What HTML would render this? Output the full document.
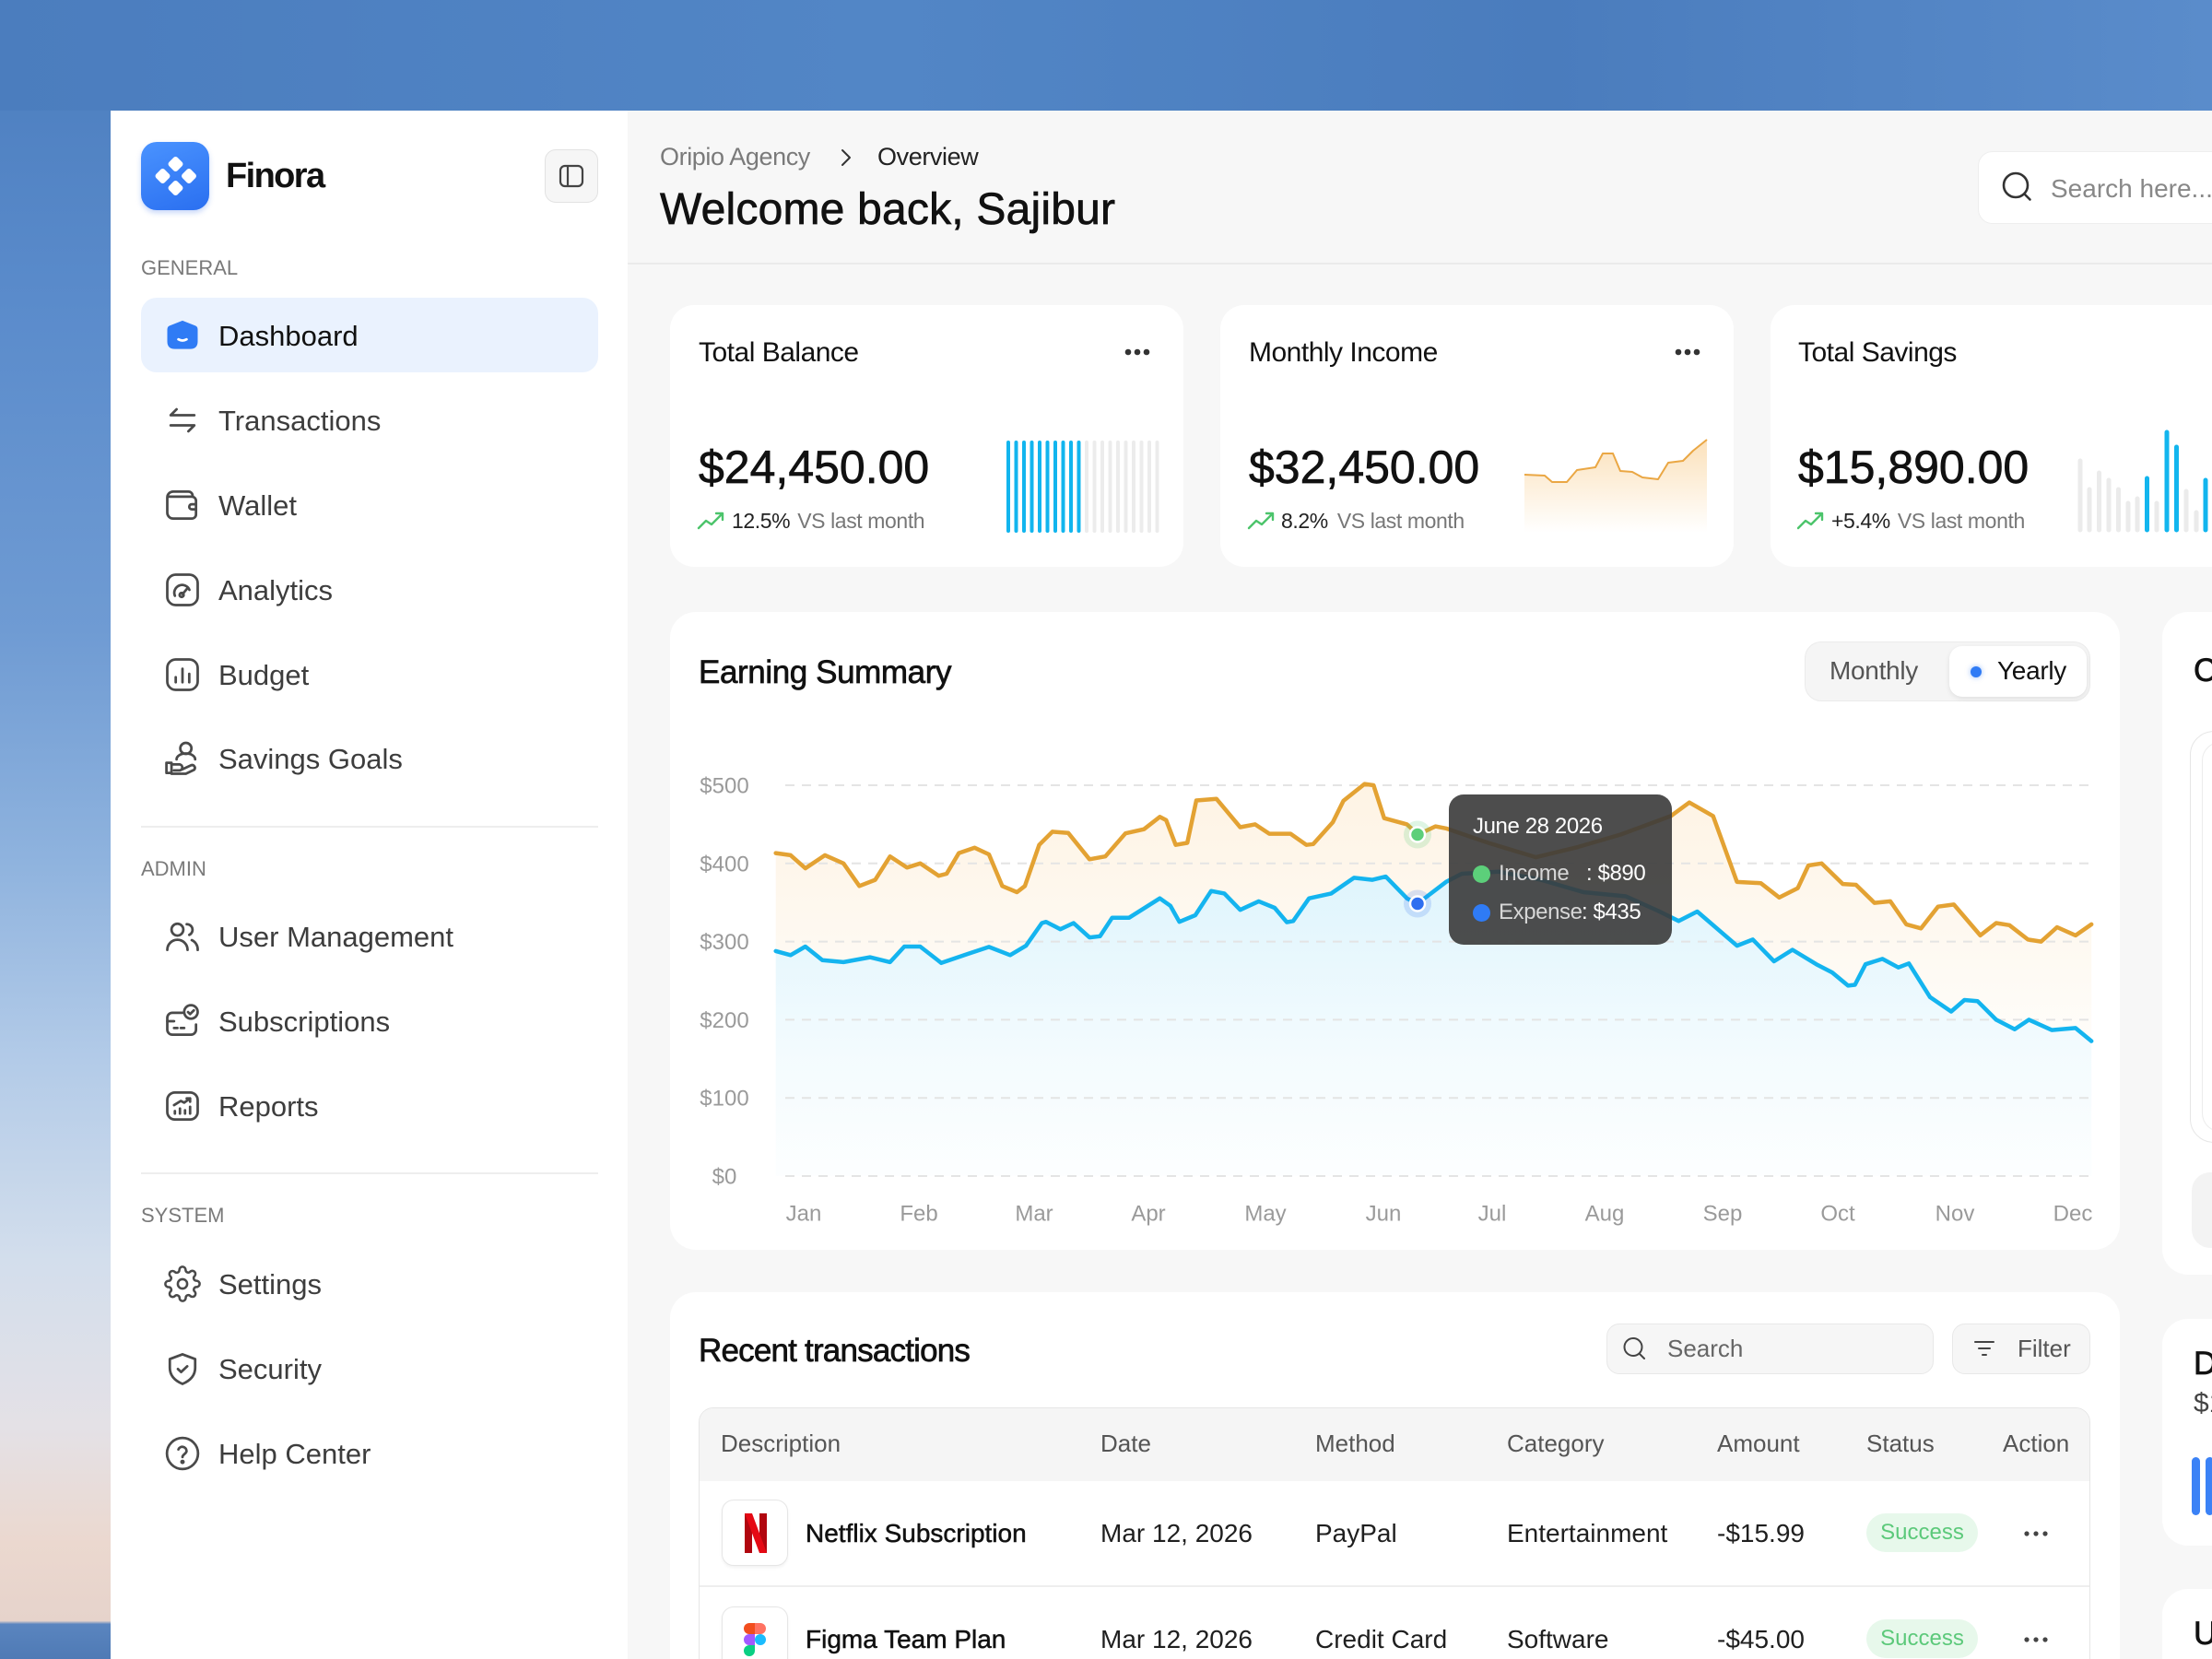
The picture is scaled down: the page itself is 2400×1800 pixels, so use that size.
<!DOCTYPE html>
<html><head><meta charset="utf-8">
<style>
*{box-sizing:border-box}
html,body{margin:0;padding:0;width:2400px;height:1800px;overflow:hidden}
body{font-family:"Liberation Sans",sans-serif}
#w{position:relative;width:2400px;height:1800px;overflow:hidden;
background:linear-gradient(180deg,#4a7cbd 0%,#5a8bcb 18%,#6f9bd3 38%,#8fb3de 52%,#b3cbe8 64%,#d3deec 76%,#e4e1e6 86%,#ebd8cf 93%,#e6d3cb 97.7%,#5a85bf 97.9%,#4f7ab5 100%);}
.a{position:absolute;white-space:nowrap;line-height:1}
.m{-webkit-text-stroke:0.7px currentColor}
.card{position:absolute;background:#fff;border-radius:26px}
.ic{position:absolute;width:44px;height:44px}
.nav{font-size:31px;color:#3d3d3d}
.sec{font-size:22px;color:#7a7a7a}
.th{font-size:26px;color:#555}
.td{font-size:28px;color:#1f1f1f}
</style></head><body><div id="w">
<div style="position:absolute;left:0;top:0;width:2400px;height:120px;background:linear-gradient(90deg,#4b7dbe,#5286c6 40%,#4a7cbd 70%,#5a8ccb)"></div>

<!-- panel -->
<div style="position:absolute;left:120px;top:120px;width:561px;height:1680px;background:#fff"></div>
<div style="position:absolute;left:681px;top:120px;width:1719px;height:1680px;background:#f7f7f7"></div>
<div style="position:absolute;left:681px;top:285px;width:1719px;height:2px;background:#ebebeb"></div>

<!-- sidebar -->
<div style="position:absolute;left:153px;top:154px;width:74px;height:74px;border-radius:17px;background:linear-gradient(160deg,#4a93ff,#2a6ff0);box-shadow:0 3px 6px rgba(40,100,230,.25)"></div>
<svg style="position:absolute;left:153px;top:154px" width="74" height="74">
<g fill="#fff">
<rect x="31" y="17.5" width="13" height="13" rx="3" transform="rotate(45 37.5 24)"/>
<rect x="17" y="30.5" width="13" height="13" rx="3" transform="rotate(45 23.5 37)"/>
<rect x="45.5" y="30.5" width="13" height="13" rx="3" transform="rotate(45 52 37)"/>
<rect x="31" y="43.5" width="13" height="13" rx="3" transform="rotate(45 37.5 50)"/>
</g></svg>
<div class="a" style="left:245px;top:172px;font-size:38px;font-weight:bold;color:#111;letter-spacing:-1.6px">Finora</div>
<div style="position:absolute;left:591px;top:162px;width:58px;height:58px;border-radius:12px;background:#f6f6f6;border:1.5px solid #e2e2e2"></div>
<svg style="position:absolute;left:591px;top:162px" width="58" height="58"><rect x="17" y="18" width="24" height="22" rx="5" fill="none" stroke="#444" stroke-width="2.2"/><line x1="25" y1="18" x2="25" y2="40" stroke="#444" stroke-width="2.2"/></svg>

<div class="a sec" style="left:153px;top:280px">GENERAL</div>
<div style="position:absolute;left:153px;top:323px;width:496px;height:81px;border-radius:17px;background:#eaf2fe"></div>
<svg class="ic" style="left:176px;top:342px" viewBox="0 0 24 24"><path d="M12 3.2L19.6 6.2Q21 6.8 21 8.4V15.5Q21 20 16.5 20H7.5Q3 20 3 15.5V8.4Q3 6.8 4.4 6.2Z" fill="#2f7bf5"/><path d="M9.6 14.3q2.4 1.4 4.8 0" stroke="#fff" stroke-width="1.5" fill="none" stroke-linecap="round"/></svg>
<div class="a nav" style="left:237px;top:348.5px;color:#111">Dashboard</div>

<svg class="ic" style="left:176px;top:434px" viewBox="0 0 24 24" fill="none" stroke="#4a4a4a" stroke-width="1.5" stroke-linecap="round" stroke-linejoin="round"><path d="M19 9H5l3.5-3.5M5 15h14l-3.5 3.5"/></svg>
<div class="a nav" style="left:237px;top:440.5px">Transactions</div>

<svg class="ic" style="left:176px;top:526px" viewBox="0 0 24 24" fill="none" stroke="#4a4a4a" stroke-width="1.5" stroke-linecap="round" stroke-linejoin="round"><path d="M18 7V6.5A2.5 2.5 0 0 0 15.5 4H6.5A3.5 3.5 0 0 0 3 7.5v9A3.5 3.5 0 0 0 6.5 20h11a2.5 2.5 0 0 0 2.5-2.5v-8A2.5 2.5 0 0 0 17.5 7H3.5"/><path d="M20 11.5h-2.5a1.5 1.5 0 0 0 0 3H20"/></svg>
<div class="a nav" style="left:237px;top:532.5px">Wallet</div>

<svg class="ic" style="left:176px;top:618px" viewBox="0 0 24 24" fill="none" stroke="#4a4a4a" stroke-width="1.5" stroke-linecap="round" stroke-linejoin="round"><rect x="3" y="3" width="18" height="18" rx="5"/><path d="M7.5 15.5a4.6 4.6 0 1 1 8.6-3.5"/><path d="M12 14.5l3-3.5"/><circle cx="11.5" cy="15" r="1.2"/></svg>
<div class="a nav" style="left:237px;top:624.5px">Analytics</div>

<svg class="ic" style="left:176px;top:710px" viewBox="0 0 24 24" fill="none" stroke="#4a4a4a" stroke-width="1.5" stroke-linecap="round" stroke-linejoin="round"><rect x="3" y="3" width="18" height="18" rx="5"/><path d="M8 16.5v-3M12 16.5v-8M16 16.5v-5"/></svg>
<div class="a nav" style="left:237px;top:716.5px">Budget</div>

<svg class="ic" style="left:176px;top:801px" viewBox="0 0 24 24" fill="none" stroke="#4a4a4a" stroke-width="1.5" stroke-linecap="round" stroke-linejoin="round"><circle cx="14" cy="6" r="3.3"/><path d="M8.5 12.5a5.5 3.5 0 0 1 11 0"/><path d="M2.5 14.5h3v6h-3z"/><path d="M5.5 15.5h5a1.8 1.8 0 0 1 0 3.5h-3.5M10.5 19l6.5-3a1.7 1.7 0 0 1 2 2.6L14 21H5.5"/></svg>
<div class="a nav" style="left:237px;top:807.5px">Savings Goals</div>

<div style="position:absolute;left:153px;top:896px;width:496px;height:2px;background:#eeeeee"></div>
<div class="a sec" style="left:153px;top:932px">ADMIN</div>

<svg class="ic" style="left:176px;top:994px" viewBox="0 0 24 24" fill="none" stroke="#4a4a4a" stroke-width="1.5" stroke-linecap="round" stroke-linejoin="round"><circle cx="9" cy="8" r="3.5"/><path d="M3 20a6 6 0 0 1 12 0"/><path d="M14.5 4.8a3.3 3.3 0 0 1 1.5 6.3"/><path d="M17.5 14.2a6 6 0 0 1 3.5 5.8"/></svg>
<div class="a nav" style="left:237px;top:1000.5px">User Management</div>

<svg class="ic" style="left:176px;top:1086px" viewBox="0 0 24 24" fill="none" stroke="#4a4a4a" stroke-width="1.5" stroke-linecap="round" stroke-linejoin="round"><path d="M12 7H6a3 3 0 0 0-3 3v7a3 3 0 0 0 3 3h11a3 3 0 0 0 3-3v-3"/><path d="M3 12h4"/><path d="M7 16h2M11 16h2"/><circle cx="17" cy="6.5" r="4"/><path d="M15.3 6.6l1.2 1.2 2.2-2.2"/></svg>
<div class="a nav" style="left:237px;top:1092.5px">Subscriptions</div>

<svg class="ic" style="left:176px;top:1178px" viewBox="0 0 24 24" fill="none" stroke="#4a4a4a" stroke-width="1.5" stroke-linecap="round" stroke-linejoin="round"><rect x="3" y="4" width="18" height="16" rx="4.5"/><path d="M7.5 16.5v-1.5M10.5 16.5v-3M13.5 16.5v-2M16.5 16.5v-4"/><path d="M7 11.5l4-2.5 2 1 3.5-2.5M14.5 7.5h2v2"/></svg>
<div class="a nav" style="left:237px;top:1184.5px">Reports</div>

<div style="position:absolute;left:153px;top:1272px;width:496px;height:2px;background:#eeeeee"></div>
<div class="a sec" style="left:153px;top:1308px">SYSTEM</div>

<svg class="ic" style="left:176px;top:1371px" viewBox="-1 -1 26 26" fill="none" stroke="#4a4a4a" stroke-width="1.5" stroke-linecap="round" stroke-linejoin="round"><circle cx="12" cy="12" r="3"/><path d="M19.4 15a1.65 1.65 0 0 0 .33 1.82l.06.06a2 2 0 0 1 0 2.83 2 2 0 0 1-2.83 0l-.06-.06a1.65 1.65 0 0 0-1.82-.33 1.65 1.65 0 0 0-1 1.51V21a2 2 0 0 1-2 2 2 2 0 0 1-2-2v-.09A1.65 1.65 0 0 0 9 19.4a1.65 1.65 0 0 0-1.82.33l-.06.06a2 2 0 0 1-2.83 0 2 2 0 0 1 0-2.830l.06-.06a1.65 1.65 0 0 0 .33-1.82 1.65 1.65 0 0 0-1.51-1H3a2 2 0 0 1-2-2 2 2 0 0 1 2-2h.09A1.65 1.65 0 0 0 4.6 9a1.65 1.65 0 0 0-.33-1.82l-.06-.06a2 2 0 0 1 0-2.83 2 2 0 0 1 2.83 0l.06.06a1.65 1.65 0 0 0 1.82.33H9a1.65 1.65 0 0 0 1-1.51V3a2 2 0 0 1 2-2 2 2 0 0 1 2 2v.09a1.65 1.65 0 0 0 1 1.51 1.65 1.65 0 0 0 1.82-.33l.06-.06a2 2 0 0 1 2.83 0 2 2 0 0 1 0 2.83l-.06.06a1.65 1.65 0 0 0-.33 1.82V9a1.65 1.65 0 0 0 1.51 1H21a2 2 0 0 1 2 2 2 2 0 0 1-2 2h-.09a1.65 1.65 0 0 0-1.51 1z"/></svg>
<div class="a nav" style="left:237px;top:1377.5px">Settings</div>

<svg class="ic" style="left:176px;top:1463px" viewBox="0 0 24 24" fill="none" stroke="#4a4a4a" stroke-width="1.5" stroke-linecap="round" stroke-linejoin="round"><path d="M12 3.5l7.5 2.8v5.2c0 4.8-3.5 7.8-7.5 9.5-4-1.7-7.5-4.7-7.5-9.5V6.3z"/><path d="M9.3 12.2l1.9 1.8 3.6-3.4"/></svg>
<div class="a nav" style="left:237px;top:1469.5px">Security</div>

<svg class="ic" style="left:176px;top:1555px" viewBox="0 0 24 24" fill="none" stroke="#4a4a4a" stroke-width="1.5" stroke-linecap="round" stroke-linejoin="round"><circle cx="12" cy="12" r="9.2"/><path d="M9.6 9.6a2.5 2.5 0 0 1 4.8.9c0 1.7-2.4 2-2.4 3.6"/><circle cx="12" cy="17" r=".6" fill="#4a4a4a"/></svg>
<div class="a nav" style="left:237px;top:1561.5px">Help Center</div>

<!-- header -->
<div class="a" style="left:716px;top:156.5px;font-size:27px;color:#7a7a7a;letter-spacing:-0.4px">Oripio Agency</div>
<svg style="position:absolute;left:908px;top:160px" width="20" height="22"><path d="M6 3l8 8-8 8" fill="none" stroke="#333" stroke-width="2" stroke-linecap="round" stroke-linejoin="round"/></svg>
<div class="a" style="left:952px;top:156.5px;font-size:27px;color:#222;letter-spacing:-0.4px">Overview</div>
<div class="a m" style="left:716px;top:204px;font-size:48px;color:#111;letter-spacing:0.2px">Welcome back, Sajibur</div>
<div style="position:absolute;left:2146px;top:164px;width:300px;height:79px;border-radius:16px;background:#fff;border:1.5px solid #eeeeee"></div>
<svg style="position:absolute;left:2168px;top:182px" width="44" height="44"><circle cx="19" cy="19" r="13" fill="none" stroke="#333" stroke-width="2.6"/><path d="M28.5 28.5l6 6" stroke="#333" stroke-width="2.6" stroke-linecap="round"/></svg>
<div class="a" style="left:2225px;top:191px;font-size:28px;color:#888">Search here...</div>

<!-- stat cards -->
<div class="card" style="left:727px;top:331px;width:557px;height:284px"></div>
<div class="card" style="left:1324px;top:331px;width:557px;height:284px"></div>
<div class="card" style="left:1921px;top:331px;width:557px;height:284px"></div>

<div class="a" style="left:758px;top:368px;font-size:30px;color:#111;letter-spacing:-0.5px">Total Balance</div>
<div class="a" style="left:1355px;top:368px;font-size:30px;color:#111;letter-spacing:-0.5px">Monthly Income</div>
<div class="a" style="left:1951px;top:368px;font-size:30px;color:#111;letter-spacing:-0.5px">Total Savings</div>

<div class="a m" style="left:758px;top:482px;font-size:50px;color:#111">$24,450.00</div>
<div class="a m" style="left:1355px;top:482px;font-size:50px;color:#111">$32,450.00</div>
<div class="a m" style="left:1951px;top:482px;font-size:50px;color:#111">$15,890.00</div>

<div class="a" style="left:794px;top:553.5px;font-size:23px;letter-spacing:-0.4px"><span style="color:#222">12.5%</span><span style="color:#777;margin-left:8px">VS last month</span></div>
<div class="a" style="left:1390px;top:553.5px;font-size:23px;letter-spacing:-0.4px"><span style="color:#222">8.2%</span><span style="color:#777;margin-left:10px">VS last month</span></div>
<div class="a" style="left:1987px;top:553.5px;font-size:23px;letter-spacing:-0.4px"><span style="color:#222">+5.4%</span><span style="color:#777;margin-left:8px">VS last month</span></div>

<!-- earning card -->
<div class="card" style="left:727px;top:664px;width:1573px;height:692px;border-radius:28px"></div>
<div class="a m" style="left:758px;top:711.5px;font-size:35px;color:#111;letter-spacing:-0.4px">Earning Summary</div>
<div style="position:absolute;left:1958px;top:696px;width:310px;height:65px;border-radius:18px;background:#f5f5f5;border:1.5px solid #ebebeb"></div>
<div style="position:absolute;left:2115px;top:701px;width:149px;height:55px;border-radius:14px;background:#fff;box-shadow:0 2px 6px rgba(0,0,0,.09)"></div>
<div class="a" style="left:1985px;top:714px;font-size:28px;color:#555;letter-spacing:-0.3px">Monthly</div>
<div style="position:absolute;left:2138px;top:723px;width:12px;height:12px;border-radius:50%;background:#2f7bf5;box-shadow:0 0 6px rgba(47,123,245,.5)"></div>
<div class="a" style="left:2167px;top:714px;font-size:28px;color:#111;letter-spacing:-0.3px">Yearly</div>

<!-- transactions card -->
<div class="card" style="left:727px;top:1402px;width:1573px;height:460px;border-radius:28px"></div>
<div class="a m" style="left:758px;top:1447.5px;font-size:35px;color:#111;letter-spacing:-0.8px">Recent transactions</div>
<div style="position:absolute;left:1743px;top:1436px;width:355px;height:55px;border-radius:14px;background:#f6f6f6;border:1.5px solid #e8e8e8"></div>
<svg style="position:absolute;left:1758px;top:1448px" width="32" height="32"><circle cx="14" cy="13.5" r="9.5" fill="none" stroke="#444" stroke-width="2"/><path d="M21 21l5 5" stroke="#444" stroke-width="2" stroke-linecap="round"/></svg>
<div class="a" style="left:1809px;top:1450px;font-size:26px;color:#666">Search</div>
<div style="position:absolute;left:2118px;top:1436px;width:150px;height:55px;border-radius:14px;background:#f6f6f6;border:1.5px solid #e8e8e8"></div>
<svg style="position:absolute;left:2140px;top:1451px" width="28" height="26"><path d="M3 5h20M7 12h12M11 19h4" stroke="#444" stroke-width="2" stroke-linecap="round"/></svg>
<div class="a" style="left:2189px;top:1450px;font-size:26px;color:#555">Filter</div>

<div style="position:absolute;left:758px;top:1527px;width:1510px;height:330px;border-radius:16px;border:1.5px solid #e6e6e6;background:#fff;overflow:hidden">
  <div style="position:absolute;left:0;top:0;width:100%;height:79px;background:#f5f5f5"></div>
  <div style="position:absolute;left:0;top:192px;width:100%;height:2px;background:#eeeeee"></div>
</div>
<div class="a th" style="left:782px;top:1553px">Description</div>
<div class="a th" style="left:1194px;top:1553px">Date</div>
<div class="a th" style="left:1427px;top:1553px">Method</div>
<div class="a th" style="left:1635px;top:1553px">Category</div>
<div class="a th" style="left:1863px;top:1553px">Amount</div>
<div class="a th" style="left:2025px;top:1553px">Status</div>
<div class="a th" style="left:2173px;top:1553px">Action</div>

<div style="position:absolute;left:783px;top:1627px;width:72px;height:72px;border-radius:13px;border:1.5px solid #e6e6e6;background:#fff;box-shadow:0 2px 3px rgba(0,0,0,.05)"></div>
<svg style="position:absolute;left:783px;top:1627px" width="72" height="72"><path d="M25 15h8v43h-8z" fill="#b1060f"/><path d="M41 15h8v43h-8z" fill="#b1060f"/><path d="M25 15h8l16 43h-8z" fill="#e50914"/></svg>
<div class="a td" style="left:874px;top:1650px;color:#111;-webkit-text-stroke:0.5px #111">Netflix Subscription</div>
<div class="a td" style="left:1194px;top:1650px">Mar 12, 2026</div>
<div class="a td" style="left:1427px;top:1650px">PayPal</div>
<div class="a td" style="left:1635px;top:1650px">Entertainment</div>
<div class="a td" style="left:1863px;top:1650px">-$15.99</div>
<div style="position:absolute;left:2025px;top:1642px;width:121px;height:42px;border-radius:21px;background:#e7f8eb"></div>
<div class="a" style="left:2025px;top:1651px;width:121px;text-align:center;font-size:24px;color:#5cc97a">Success</div>
<svg style="position:absolute;left:2194px;top:1657px" width="30" height="14"><circle cx="5" cy="7" r="2.6" fill="#444"/><circle cx="15" cy="7" r="2.6" fill="#444"/><circle cx="25" cy="7" r="2.6" fill="#444"/></svg>

<div style="position:absolute;left:783px;top:1743px;width:72px;height:72px;border-radius:13px;border:1.5px solid #e6e6e6;background:#fff;box-shadow:0 2px 3px rgba(0,0,0,.05)"></div>
<svg style="position:absolute;left:783px;top:1743px" width="72" height="72"><path d="M30 18h6v12h-6a6 6 0 0 1 0-12z" fill="#f24e1e"/><path d="M36 18h6a6 6 0 0 1 0 12h-6z" fill="#ff7262"/><path d="M30 30h6v12h-6a6 6 0 0 1 0-12z" fill="#a259ff"/><circle cx="42" cy="36" r="6" fill="#1abcfe"/><path d="M30 42h6v6a6 6 0 1 1-6-6z" fill="#0acf83"/></svg>
<div class="a td" style="left:874px;top:1765px;color:#111;-webkit-text-stroke:0.5px #111">Figma Team Plan</div>
<div class="a td" style="left:1194px;top:1765px">Mar 12, 2026</div>
<div class="a td" style="left:1427px;top:1765px">Credit Card</div>
<div class="a td" style="left:1635px;top:1765px">Software</div>
<div class="a td" style="left:1863px;top:1765px">-$45.00</div>
<div style="position:absolute;left:2025px;top:1757px;width:121px;height:42px;border-radius:21px;background:#e7f8eb"></div>
<div class="a" style="left:2025px;top:1766px;width:121px;text-align:center;font-size:24px;color:#5cc97a">Success</div>
<svg style="position:absolute;left:2194px;top:1772px" width="30" height="14"><circle cx="5" cy="7" r="2.6" fill="#444"/><circle cx="15" cy="7" r="2.6" fill="#444"/><circle cx="25" cy="7" r="2.6" fill="#444"/></svg>

<!-- right column -->
<div class="card" style="left:2346px;top:664px;width:200px;height:719px;border-radius:28px"></div>
<div class="a m" style="left:2380px;top:709.5px;font-size:35px;color:#111">C</div>
<div style="position:absolute;left:2376px;top:793px;width:120px;height:447px;border-radius:26px;border:1.5px solid #e6e6e6"></div>
<div style="position:absolute;left:2389px;top:805px;width:100px;height:423px;border-radius:20px;border:1.5px solid #ececec;border-right:none"></div>
<div style="position:absolute;left:2378px;top:1272px;width:60px;height:82px;border-radius:20px;background:#f3f3f3"></div>
<div class="card" style="left:2346px;top:1431px;width:200px;height:246px;border-radius:28px"></div>
<div class="a m" style="left:2380px;top:1461.5px;font-size:35px;color:#111">D</div>
<div class="a" style="left:2380px;top:1508px;font-size:30px;color:#444">$1</div>
<div style="position:absolute;left:2378px;top:1581px;width:9px;height:63px;border-radius:5px;background:#3b82f6"></div>
<div style="position:absolute;left:2393px;top:1581px;width:9px;height:63px;border-radius:5px;background:#3b82f6"></div>
<div class="card" style="left:2346px;top:1724px;width:200px;height:120px;border-radius:28px"></div>
<div class="a m" style="left:2380px;top:1754.5px;font-size:35px;color:#111">U</div>

<!-- graphics overlay -->
<svg style="position:absolute;left:0;top:0" width="2400" height="1800">
<defs>
<linearGradient id="of" x1="0" y1="850" x2="0" y2="1130" gradientUnits="userSpaceOnUse"><stop offset="0" stop-color="#f5b04a" stop-opacity=".15"/><stop offset="1" stop-color="#f5b04a" stop-opacity=".03"/></linearGradient>
<linearGradient id="bf" x1="0" y1="950" x2="0" y2="1276" gradientUnits="userSpaceOnUse"><stop offset="0" stop-color="#18b4ec" stop-opacity=".14"/><stop offset=".6" stop-color="#18b4ec" stop-opacity=".05"/><stop offset="1" stop-color="#18b4ec" stop-opacity=".01"/></linearGradient>
<linearGradient id="mf" x1="0" y1="476" x2="0" y2="578" gradientUnits="userSpaceOnUse"><stop offset="0" stop-color="#f5b04a" stop-opacity=".38"/><stop offset="1" stop-color="#f5b04a" stop-opacity="0"/></linearGradient>
</defs>

<!-- card dots -->
<g fill="#333"><circle cx="1224" cy="382" r="3.3"/><circle cx="1234" cy="382" r="3.3"/><circle cx="1244" cy="382" r="3.3"/>
<circle cx="1821" cy="382" r="3.3"/><circle cx="1831" cy="382" r="3.3"/><circle cx="1841" cy="382" r="3.3"/></g>
<!-- trend arrows -->
<g fill="none" stroke="#4cc46b" stroke-width="2.4" stroke-linecap="round" stroke-linejoin="round">
<path d="M758 573l8-8 6 4 12-12M777 557h7v7"/>
<path d="M1355 573l8-8 6 4 12-12M1374 557h7v7"/>
<path d="M1951 573l8-8 6 4 12-12M1970 557h7v7"/>
</g>
<!-- card1 bars -->
<g stroke-width="4" stroke-linecap="round">
<g stroke="#12b5ee">
<line x1="1094" y1="480" x2="1094" y2="576"/><line x1="1102.5" y1="480" x2="1102.5" y2="576"/><line x1="1111" y1="480" x2="1111" y2="576"/><line x1="1119.5" y1="480" x2="1119.5" y2="576"/><line x1="1128" y1="480" x2="1128" y2="576"/><line x1="1136.5" y1="480" x2="1136.5" y2="576"/><line x1="1145" y1="480" x2="1145" y2="576"/><line x1="1153.5" y1="480" x2="1153.5" y2="576"/><line x1="1162" y1="480" x2="1162" y2="576"/><line x1="1170.5" y1="480" x2="1170.5" y2="576"/>
</g>
<g stroke="#ececec">
<line x1="1179" y1="480" x2="1179" y2="576"/><line x1="1187.5" y1="480" x2="1187.5" y2="576"/><line x1="1196" y1="480" x2="1196" y2="576"/><line x1="1204.5" y1="480" x2="1204.5" y2="576"/><line x1="1213" y1="480" x2="1213" y2="576"/><line x1="1221.5" y1="480" x2="1221.5" y2="576"/><line x1="1230" y1="480" x2="1230" y2="576"/><line x1="1238.5" y1="480" x2="1238.5" y2="576"/><line x1="1247" y1="480" x2="1247" y2="576"/><line x1="1255.5" y1="480" x2="1255.5" y2="576"/>
</g></g>
<!-- card2 area -->
<path d="M1654 515L1676 516L1684 523L1700 523L1711 510L1731 507L1739 492L1750 492L1758 511L1771 512L1782 518L1799 520L1810 502L1826 500L1837 489L1852 477L1852 578L1654 578Z" fill="url(#mf)"/>
<polyline points="1654,515 1676,516 1684,523 1700,523 1711,510 1731,507 1739,492 1750,492 1758,511 1771,512 1782,518 1799,520 1810,502 1826,500 1837,489 1852,477" fill="none" stroke="#eaa744" stroke-width="2" stroke-linejoin="round"/>
<!-- card3 bars -->
<g stroke-width="5" stroke-linecap="round">
<line x1="2257" y1="500" x2="2257" y2="575" stroke="#ebebeb"/>
<line x1="2267" y1="531" x2="2267" y2="575" stroke="#ebebeb"/>
<line x1="2277.5" y1="513" x2="2277.5" y2="575" stroke="#ebebeb"/>
<line x1="2288" y1="521" x2="2288" y2="575" stroke="#ebebeb"/>
<line x1="2298.5" y1="531" x2="2298.5" y2="575" stroke="#ebebeb"/>
<line x1="2309" y1="546" x2="2309" y2="575" stroke="#ebebeb"/>
<line x1="2319" y1="541" x2="2319" y2="575" stroke="#ebebeb"/>
<line x1="2329.5" y1="519" x2="2329.5" y2="575" stroke="#12b5ee"/>
<line x1="2340" y1="546" x2="2340" y2="575" stroke="#ebebeb"/>
<line x1="2351" y1="469" x2="2351" y2="575" stroke="#12b5ee"/>
<line x1="2361.5" y1="485" x2="2361.5" y2="575" stroke="#12b5ee"/>
<line x1="2372" y1="533" x2="2372" y2="575" stroke="#ebebeb"/>
<line x1="2383" y1="556" x2="2383" y2="575" stroke="#ebebeb"/>
<line x1="2393" y1="521" x2="2393" y2="575" stroke="#12b5ee"/>
</g>

<!-- main chart fills -->
<path d="M841.7,925.6 857.8,927.9 873.8,942.1 895.1,927.9 915.2,936.8 932.4,961.3 949.6,954.6 965.7,929.2 984,941.3 998.4,936.8 1018.5,950.2 1027.1,948 1040.3,925.6 1057.5,919.8 1073,927 1087.4,961.3 1103.4,968 1112,961.3 1127.5,916.7 1141.9,902.4 1159.1,903.8 1182.1,932.3 1199.3,929.2 1221.1,904.2 1241.2,899.7 1258.4,886.3 1265.3,889.9 1275.6,916.7 1288.2,914.5 1298,868.5 1319.8,866.7 1345.6,897.5 1361.7,894.4 1377.2,904.6 1400.2,904.6 1417.4,916.7 1424.9,915.8 1446.1,892.1 1457.6,868.9 1480.5,850.6 1490.3,852 1501.8,887.7 1526.5,894.4 1538.5,905.5 1557.4,896.6 1568.9,898.8 1614.8,914.5 1666.5,930.1 1712.4,918.9 1758.3,905.5 1812.8,885.4 1832.9,870.7 1858.7,885.4 1884.6,956.9 1910.4,958.2 1930.5,973.8 1950.6,963.6 1962.1,939 1976.4,936.8 1999.4,959.1 2013.7,960 2033.8,979.6 2051,977.9 2068.3,1002.9 2084.3,1007.3 2102.7,983.7 2119.9,981.4 2148.6,1014.9 2165.8,1001.5 2180.2,1003.8 2200.3,1019.4 2214.6,1021.6 2231.9,1006 2252,1014.9 2269.2,1002.9 2269.2,1129.6 2251.9,1115.4 2226.1,1117.6 2201.4,1106.4 2185.9,1116.7 2165.8,1106.4 2145.7,1086.3 2131.4,1085 2117,1097.5 2094.1,1081.9 2071.1,1045.3 2059.7,1049.7 2042.4,1040.4 2024.1,1046.2 2012.6,1068.5 2005.1,1069.4 1987.9,1055.1 1970.7,1046.2 1944.8,1030.5 1924.8,1043 1901.8,1019.4 1884.6,1026.1 1841.5,989 1821.4,999.3 1798.5,988 1764,972.5 1718,968 1672,954.6 1626,945.7 1586,948 1568.9,956.9 1538,980.5 1526.5,974.7 1503.5,951.1 1489.1,954.6 1469.1,952.4 1444.4,969.4 1420.3,974.7 1403.1,999.3 1396.2,1000.6 1383,985 1365.7,977.9 1345.6,987.2 1328.4,969.4 1314.1,966.7 1296.9,993 1279.6,1000.2 1269.9,982.8 1258.4,974.7 1225.1,995.7 1206.7,995.7 1193.5,1015.8 1182.1,1017.1 1164.8,1001.5 1150.5,1008.2 1135,1000.2 1130.4,1001.5 1113.2,1026.1 1096,1036.3 1073,1027.4 1050,1035 1021.3,1044.8 998.4,1027 981.2,1027 965.7,1043.9 943.9,1038.6 915.2,1043.9 892.2,1041.7 873.8,1027 857.8,1036.3 841.7,1031.9Z" fill="url(#of)"/>
<path d="M841.7,1031.9 857.8,1036.3 873.8,1027 892.2,1041.7 915.2,1043.9 943.9,1038.6 965.7,1043.9 981.2,1027 998.4,1027 1021.3,1044.8 1050,1035 1073,1027.4 1096,1036.3 1113.2,1026.1 1130.4,1001.5 1135,1000.2 1150.5,1008.2 1164.8,1001.5 1182.1,1017.1 1193.5,1015.8 1206.7,995.7 1225.1,995.7 1258.4,974.7 1269.9,982.8 1279.6,1000.2 1296.9,993 1314.1,966.7 1328.4,969.4 1345.6,987.2 1365.7,977.9 1383,985 1396.2,1000.6 1403.1,999.3 1420.3,974.7 1444.4,969.4 1469.1,952.4 1489.1,954.6 1503.5,951.1 1526.5,974.7 1538,980.5 1568.9,956.9 1586,948 1626,945.7 1672,954.6 1718,968 1764,972.5 1798.5,988 1821.4,999.3 1841.5,989 1884.6,1026.1 1901.8,1019.4 1924.8,1043 1944.8,1030.5 1970.7,1046.2 1987.9,1055.1 2005.1,1069.4 2012.6,1068.5 2024.1,1046.2 2042.4,1040.4 2059.7,1049.7 2071.1,1045.3 2094.1,1081.9 2117,1097.5 2131.4,1085 2145.7,1086.3 2165.8,1106.4 2185.9,1116.7 2201.4,1106.4 2226.1,1117.6 2251.9,1115.4 2269.2,1129.6 2269.2,1276 841.7,1276Z" fill="url(#bf)"/>

<!-- grid -->
<g stroke="#e4e4e4" stroke-width="2" stroke-dasharray="10 8">
<line x1="852" y1="852" x2="2269" y2="852"/>
<line x1="852" y1="936.8" x2="2269" y2="936.8"/>
<line x1="852" y1="1021.6" x2="2269" y2="1021.6"/>
<line x1="852" y1="1106.4" x2="2269" y2="1106.4"/>
<line x1="852" y1="1191.2" x2="2269" y2="1191.2"/>
<line x1="852" y1="1276" x2="2269" y2="1276"/>
</g>
<g font-family="Liberation Sans, sans-serif" font-size="24" fill="#9a9a9a" text-anchor="middle">
<text x="786" y="860.5">$500</text><text x="786" y="945.3">$400</text><text x="786" y="1030.1">$300</text><text x="786" y="1114.9">$200</text><text x="786" y="1199.7">$100</text><text x="786" y="1284.5">$0</text>
<text x="872" y="1324.5">Jan</text><text x="997" y="1324.5">Feb</text><text x="1122" y="1324.5">Mar</text><text x="1246" y="1324.5">Apr</text><text x="1373" y="1324.5">May</text><text x="1501" y="1324.5">Jun</text><text x="1619" y="1324.5">Jul</text><text x="1741" y="1324.5">Aug</text><text x="1869" y="1324.5">Sep</text><text x="1994" y="1324.5">Oct</text><text x="2121" y="1324.5">Nov</text><text x="2249" y="1324.5">Dec</text>
</g>

<!-- lines -->
<polyline fill="none" stroke="#e3a233" stroke-width="4.5" stroke-linejoin="round" stroke-linecap="round" points="841.7,925.6 857.8,927.9 873.8,942.1 895.1,927.9 915.2,936.8 932.4,961.3 949.6,954.6 965.7,929.2 984,941.3 998.4,936.8 1018.5,950.2 1027.1,948 1040.3,925.6 1057.5,919.8 1073,927 1087.4,961.3 1103.4,968 1112,961.3 1127.5,916.7 1141.9,902.4 1159.1,903.8 1182.1,932.3 1199.3,929.2 1221.1,904.2 1241.2,899.7 1258.4,886.3 1265.3,889.9 1275.6,916.7 1288.2,914.5 1298,868.5 1319.8,866.7 1345.6,897.5 1361.7,894.4 1377.2,904.6 1400.2,904.6 1417.4,916.7 1424.9,915.8 1446.1,892.1 1457.6,868.9 1480.5,850.6 1490.3,852 1501.8,887.7 1526.5,894.4 1538.5,905.5 1557.4,896.6 1568.9,898.8 1614.8,914.5 1666.5,930.1 1712.4,918.9 1758.3,905.5 1812.8,885.4 1832.9,870.7 1858.7,885.4 1884.6,956.9 1910.4,958.2 1930.5,973.8 1950.6,963.6 1962.1,939 1976.4,936.8 1999.4,959.1 2013.7,960 2033.8,979.6 2051,977.9 2068.3,1002.9 2084.3,1007.3 2102.7,983.7 2119.9,981.4 2148.6,1014.9 2165.8,1001.5 2180.2,1003.8 2200.3,1019.4 2214.6,1021.6 2231.9,1006 2252,1014.9 2269.2,1002.9"/>
<polyline fill="none" stroke="#14b4ef" stroke-width="4.5" stroke-linejoin="round" stroke-linecap="round" points="841.7,1031.9 857.8,1036.3 873.8,1027 892.2,1041.7 915.2,1043.9 943.9,1038.6 965.7,1043.9 981.2,1027 998.4,1027 1021.3,1044.8 1050,1035 1073,1027.4 1096,1036.3 1113.2,1026.1 1130.4,1001.5 1135,1000.2 1150.5,1008.2 1164.8,1001.5 1182.1,1017.1 1193.5,1015.8 1206.7,995.7 1225.1,995.7 1258.4,974.7 1269.9,982.8 1279.6,1000.2 1296.9,993 1314.1,966.7 1328.4,969.4 1345.6,987.2 1365.7,977.9 1383,985 1396.2,1000.6 1403.1,999.3 1420.3,974.7 1444.4,969.4 1469.1,952.4 1489.1,954.6 1503.5,951.1 1526.5,974.7 1538,980.5 1568.9,956.9 1586,948 1626,945.7 1672,954.6 1718,968 1764,972.5 1798.5,988 1821.4,999.3 1841.5,989 1884.6,1026.1 1901.8,1019.4 1924.8,1043 1944.8,1030.5 1970.7,1046.2 1987.9,1055.1 2005.1,1069.4 2012.6,1068.5 2024.1,1046.2 2042.4,1040.4 2059.7,1049.7 2071.1,1045.3 2094.1,1081.9 2117,1097.5 2131.4,1085 2145.7,1086.3 2165.8,1106.4 2185.9,1116.7 2201.4,1106.4 2226.1,1117.6 2251.9,1115.4 2269.2,1129.6"/>
<!-- markers -->
<circle cx="1538" cy="905.5" r="15" fill="#5ccf7a" fill-opacity=".2"/>
<circle cx="1538" cy="905.5" r="8" fill="#5ccf7a" stroke="#fff" stroke-width="2.5"/>
<circle cx="1538" cy="980.5" r="15" fill="#2f6ff0" fill-opacity=".18"/>
<circle cx="1538" cy="980.5" r="8" fill="#2f6ff0" stroke="#fff" stroke-width="2.5"/>
</svg>

<!-- tooltip -->
<div style="position:absolute;left:1572px;top:862px;width:242px;height:163px;border-radius:16px;background:rgba(58,58,58,.9)"></div>
<div class="a" style="left:1598px;top:885px;font-size:24px;color:#fff;letter-spacing:-0.4px">June 28 2026</div>
<div style="position:absolute;left:1598px;top:939px;width:19px;height:19px;border-radius:50%;background:#5ccf7a"></div>
<div class="a" style="left:1626px;top:936px;font-size:24px;color:#d6d6d6;letter-spacing:-0.4px">Income</div>
<div class="a" style="left:1721px;top:936px;font-size:24px;color:#fff;letter-spacing:-0.4px">: $890</div>
<div style="position:absolute;left:1598px;top:981px;width:19px;height:19px;border-radius:50%;background:#2f7bf5"></div>
<div class="a" style="left:1626px;top:978px;font-size:24px;color:#d6d6d6;letter-spacing:-0.4px">Expense</div>
<div class="a" style="left:1716px;top:978px;font-size:24px;color:#fff;letter-spacing:-0.4px">: $435</div>
</div></body></html>
